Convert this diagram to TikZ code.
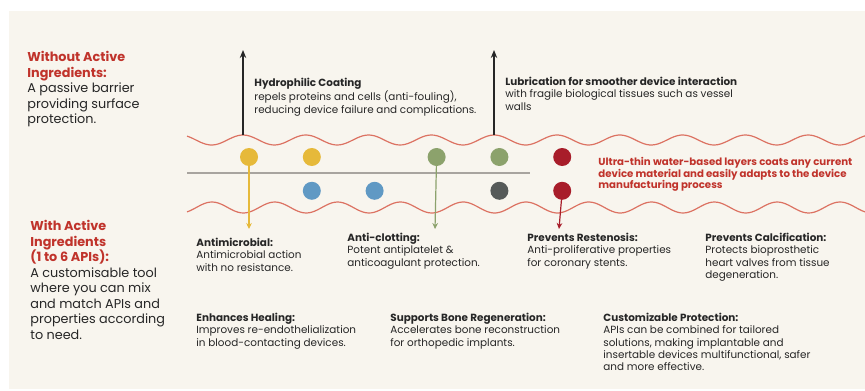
\documentclass[tikz,border=0pt]{standalone}
\usepackage{fontspec}
\setmainfont{Poppins}
\usetikzlibrary{positioning,arrows.meta}

\definecolor{cream}{HTML}{F8F5EE}
\definecolor{ink}{HTML}{262626}
\definecolor{headred}{HTML}{C0332B}
\definecolor{wavered}{HTML}{DC7262}
\definecolor{apiyellow}{HTML}{E6B93A}
\definecolor{apigreen}{HTML}{8CA26C}
\definecolor{apiblue}{HTML}{6099C4}
\definecolor{apidark}{HTML}{565A59}
\definecolor{apired}{HTML}{A81D2A}
\definecolor{midline}{HTML}{A8A49F}

\begin{document}
\begin{tikzpicture}[
        x=0.5pt,y=-0.5pt,
        node distance=22pt,
        dot/.style={circle,inner sep=0pt,minimum size=9pt},
        side/.style={anchor=north west,align=left,inner sep=0pt,text=ink,
            font=\fontsize{6.4}{7.75}\selectfont},
        blurb/.style={anchor=north west,align=left,inner sep=0pt,text=ink,
            font=\fontsize{5.2}{6.1}\selectfont},
        wave/.style={draw=wavered,line width=0.6pt},
        riser/.style={draw=ink,line width=0.75pt,-{Stealth[length=4pt,width=3.2pt]}},
        drop/.style={line width=0.6pt,-{Stealth[length=3pt,width=2.8pt]}}
    ]
    \useasboundingbox (0,0) rectangle (865,390);
    \fill[white] (0,0) rectangle (865,390);
    \fill[cream] (9,11) rectangle (865,389);

    % coating layers
    \draw[wave] plot[domain=187:865,samples=240,smooth] (\x,{140-5*cos(((\x-243)/62.8)*360)});
    \draw[wave] plot[domain=187:865,samples=240,smooth] (\x,{207.5-5.5*cos(((\x-212)/62.8)*360)});
    \draw[midline,line width=0.75pt] (187,173) -- (530,173);

    % APIs
    \node (y1) [dot,fill=apiyellow] at (249,157) {};
    \node (y2) [dot,fill=apiyellow,right=of y1] {};
    \node (g1) [dot,fill=apigreen,right=53pt of y2] {};
    \node (g2) [dot,fill=apigreen,right=of g1] {};
    \node (r1) [dot,fill=apired,right=of g2] {};
    \node (b1) [dot,fill=apiblue,below=7.5pt of y2] {};
    \node (b2) [dot,fill=apiblue,right=of b1] {};
    \node (d1) [dot,fill=apidark,below=7.5pt of g2] {};
    \node (r2) [dot,fill=apired,below=7.5pt of r1] {};

    \coordinate (c1) at (243,135);
    \coordinate (c2) at (494,135);
    \coordinate (t1) at (243,50);
    \coordinate (t2) at (494,50);
    \coordinate (ya) at (249,229);
    \coordinate (ga) at (435,229);
    \coordinate (ra) at (559,229);

    \draw[riser] (c1) -- (t1);
    \draw[riser] (c2) -- (t2);
    \draw[drop,apiyellow] (y1.center) -- (ya);
    \draw[drop,apigreen] (g1.center) -- (ga);
    \draw[drop,apired] (r2.center) -- (ra);

    % side notes
    \node (plain) [side] at (27,51) {\textcolor{headred}{\textbf{Without Active}}\\
        \textcolor{headred}{\textbf{Ingredients:}}\\ A passive barrier\\ providing surface\\ protection.};
    \node (active) [side] at (30,220) {\textcolor{headred}{\textbf{With Active}}\\
        \textcolor{headred}{\textbf{Ingredients}}\\ \textcolor{headred}{\textbf{(1 to 6 APIs):}}\\
        A customisable tool\\ where you can mix\\ and match APIs and\\ properties according\\ to need.};

    % properties
    \node (hydro) [blurb] at (254,77.5) {\textbf{Hydrophilic Coating}\\
        repels proteins and cells (anti-fouling),\\ reducing device failure and complications.};
    \node (lubri) [blurb] at (505,77) {\textbf{Lubrication for smoother device interaction}\\
        with fragile biological tissues such as vessel\\ walls};
    \node (ultra) [blurb,text=headred,font=\fontsize{5.1}{5.75}\selectfont\bfseries] at (598,157)
        {Ultra-thin water-based layers coats any current\\ device material and easily adapts to the device\\ manufacturing process};
    \node (micro) [blurb] at (196,238) {\textbf{Antimicrobial:}\\ Antimicrobial action\\ with no resistance.};
    \node (clot) [blurb] at (347,233) {\textbf{Anti-clotting:}\\ Potent antiplatelet \&\\ anticoagulant protection.};
    \node (resten) [blurb] at (527,233) {\textbf{Prevents Restenosis:}\\ Anti-proliferative properties\\ for coronary stents.};
    \node (calci) [blurb] at (705,233) {\textbf{Prevents Calcification:}\\ Protects bioprosthetic\\ heart valves from tissue\\ degeneration.};
    \node (heal) [blurb] at (196,313) {\textbf{Enhances Healing:}\\ Improves re-endothelialization\\ in blood-contacting devices.};
    \node (bone) [blurb] at (390,313) {\textbf{Supports Bone Regeneration:}\\ Accelerates bone reconstruction\\ for orthopedic implants.};
    \node (custom) [blurb] at (603,313) {\textbf{Customizable Protection:}\\ APIs can be combined for tailored\\
        solutions, making implantable and\\ insertable devices multifunctional, safer\\ and more effective.};
\end{tikzpicture}
\end{document}
